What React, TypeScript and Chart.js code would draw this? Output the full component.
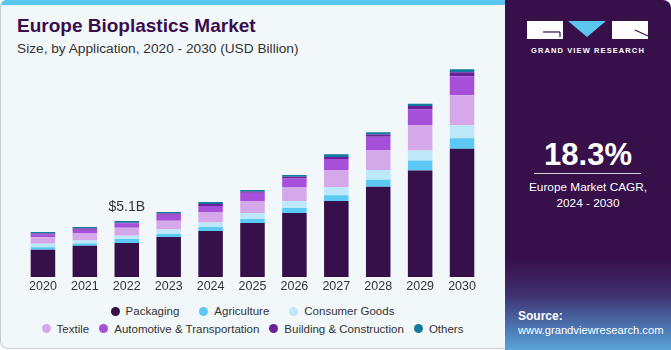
import React, { useEffect, useRef } from 'react';
import { Chart, registerables } from 'chart.js';

Chart.register(...registerables);

const years = ['2020', '2021', '2022', '2023', '2024', '2025', '2026', '2027', '2028', '2029', '2030'];
const packaging = [2.48, 2.85, 3.1, 3.64, 4.19, 4.92, 5.83, 6.92, 8.22, 9.7, 11.67];
const agriculture = [0.24, 0.21, 0.36, 0.27, 0.36, 0.36, 0.45, 0.52, 0.64, 0.91, 0.97];
const consumerGoods = [0.3, 0.27, 0.3, 0.42, 0.42, 0.55, 0.64, 0.76, 0.88, 0.91, 1.18];
const textile = [0.61, 0.64, 0.73, 0.79, 0.94, 1.09, 1.27, 1.55, 1.82, 2.3, 2.73];
const automotive = [0.25, 0.34, 0.39, 0.55, 0.55, 0.76, 0.79, 1.0, 1.21, 1.46, 1.73];
const building = [0.09, 0.11, 0.06, 0.12, 0.18, 0.09, 0.15, 0.18, 0.21, 0.3, 0.36];
const others = [0.12, 0.14, 0.15, 0.12, 0.18, 0.15, 0.15, 0.24, 0.21, 0.21, 0.27];

const seriesNames = ['Packaging', 'Agriculture', 'Consumer Goods', 'Textile', 'Automotive & Transportation', 'Building & Construction', 'Others'];
const seriesColors = ['#36104A', '#5CC9F5', '#BDE8F9', '#D5A8EA', '#A64FD9', '#6B1F9B', '#127A9E'];
const seriesData = [packaging, agriculture, consumerGoods, textile, automotive, building, others];

const annotationIndex = 2;
const annotationText = '$5.1B';

const legendRow1 = [0, 1, 2];
const legendRow2 = [3, 4, 5, 6];

const FONT = '"Liberation Sans", Arial, sans-serif';

const totalLabelPlugin = {
  id: 'totalLabel',
  afterDatasetsDraw(chart: any) {
    const ctx = chart.ctx;
    const meta = chart.getDatasetMeta(chart.data.datasets.length - 1);
    const el = meta.data[annotationIndex];
    if (!el) return;
    ctx.save();
    ctx.font = `14px ${FONT}`;
    ctx.fillStyle = '#333333';
    ctx.textAlign = 'center';
    ctx.textBaseline = 'alphabetic';
    ctx.fillText(annotationText, el.x, el.y - 10);
    ctx.restore();
  },
};

function LegendItem({ idx }: { idx: number }) {
  return (
    <div style={{ display: 'flex', alignItems: 'center' }}>
      <span
        style={{
          width: 9,
          height: 9,
          borderRadius: '50%',
          background: seriesColors[idx],
          display: 'inline-block',
          marginRight: 6,
        }}
      />
      <span>{seriesNames[idx]}</span>
    </div>
  );
}

export default function App() {
  const canvasRef = useRef<HTMLCanvasElement | null>(null);

  useEffect(() => {
    document.body.style.margin = '0';
    const canvas = canvasRef.current;
    if (!canvas) return;
    const chart = new Chart(canvas, {
      type: 'bar',
      data: {
        labels: years,
        datasets: seriesData.map((d, i) => ({
          label: seriesNames[i],
          data: d,
          backgroundColor: seriesColors[i],
          borderWidth: 0,
          categoryPercentage: 1,
          barPercentage: 0.585,
        })),
      },
      options: {
        responsive: false,
        animation: false,
        devicePixelRatio: 1,
        layout: { padding: { left: 22, right: 17, top: 7.4, bottom: 4 } },
        plugins: {
          legend: { display: false },
          tooltip: { enabled: false },
        },
        scales: {
          x: {
            stacked: true,
            grid: { display: false, drawTicks: false },
            border: { display: false },
            ticks: {
              color: '#333333',
              font: { family: FONT, size: 12.5 },
              padding: 2,
            },
          },
          y: {
            stacked: true,
            display: false,
            min: 0,
            max: 20,
          },
        },
      },
      plugins: [totalLabelPlugin],
    });
    return () => chart.destroy();
  }, []);

  return (
    <div
      style={{
        position: 'fixed',
        left: 0,
        top: 0,
        width: 671,
        height: 350,
        background: '#ffffff',
        overflow: 'hidden',
        fontFamily: FONT,
      }}
    >
      {/* left card */}
      <div
        style={{
          position: 'absolute',
          left: 0,
          top: 0,
          width: 520,
          height: 349,
          background: '#F2F7FA',
          borderLeft: '1.5px solid #c9cccf',
          borderBottom: '1.5px solid #c9cccf',
          borderBottomLeftRadius: 8,
          borderTopLeftRadius: 6,
          boxSizing: 'border-box',
          overflow: 'hidden',
        }}
      >
        <div style={{ position: 'absolute', left: 0, top: 0, width: '100%', height: 5, background: '#5BC6EF' }} />
      </div>

      {/* title */}
      <div
        style={{
          position: 'absolute',
          left: 17,
          top: 15,
          fontSize: 19,
          fontWeight: 900,
          color: '#3A0E4C',
          whiteSpace: 'nowrap',
          fontFamily: FONT,
        }}
      >
        Europe Bioplastics Market
      </div>
      <div
        style={{
          position: 'absolute',
          left: 17,
          top: 41,
          fontSize: 13.7,
          color: '#333333',
          whiteSpace: 'nowrap',
        }}
      >
        Size, by Application, 2020 - 2030 (USD Billion)
      </div>

      <canvas
        ref={canvasRef}
        width={500}
        height={250}
        style={{ position: 'absolute', left: 0, top: 50, width: 500, height: 250 }}
      />

      {/* legend */}
      <div
        style={{
          position: 'absolute',
          left: 0,
          top: 303,
          width: 505,
          fontSize: 11.5,
          color: '#333333',
        }}
      >
        <div style={{ display: 'flex', justifyContent: 'center', gap: 20, height: 16, alignItems: 'center' }}>
          {legendRow1.map((i) => (
            <LegendItem key={i} idx={i} />
          ))}
        </div>
        <div style={{ display: 'flex', justifyContent: 'center', gap: 10, height: 17, alignItems: 'center', marginTop: 1 }}>
          {legendRow2.map((i) => (
            <LegendItem key={i} idx={i} />
          ))}
        </div>
      </div>

      {/* right panel */}
      <div
        style={{
          position: 'absolute',
          left: 505,
          top: 0,
          width: 166,
          height: 350,
          borderTopRightRadius: 8,
          background:
            'linear-gradient(to bottom, #37104A 0%, #37104A 74%, #3F2F6E 84%, #4C79B5 94%, #5AA3D8 100%)',
          color: '#ffffff',
        }}
      >
        <svg width={166} height={45} style={{ position: 'absolute', left: 0, top: 0 }}>
          <rect x={22} y={21} width={36} height={18} fill="#ffffff" />
          <line x1={38} y1={32} x2={55} y2={32} stroke="#37104A" strokeWidth={1.2} />
          <line x1={55} y1={32} x2={55} y2={37} stroke="#37104A" strokeWidth={1.2} />
          <polygon points="63,21 101,21 82,37" fill="#5BC6EF" />
          <rect x={107} y={21} width={36} height={18} fill="#ffffff" />
          <line x1={130} y1={30} x2={143} y2={36} stroke="#37104A" strokeWidth={1.2} />
        </svg>
        <div
          style={{
            position: 'absolute',
            left: 0,
            top: 46,
            width: 166,
            textAlign: 'center',
            fontSize: 7.5,
            fontWeight: 700,
            letterSpacing: 1.1,
            whiteSpace: 'nowrap',
          }}
        >
          GRAND VIEW RESEARCH
        </div>
        <div
          style={{
            position: 'absolute',
            left: 0,
            top: 137,
            width: 166,
            textAlign: 'center',
            fontSize: 31,
            fontWeight: 700,
          }}
        >
          18.3%
        </div>
        <div style={{ position: 'absolute', left: 29, top: 173, width: 107, height: 1, background: '#d8d0dc' }} />
        <div
          style={{
            position: 'absolute',
            left: 0,
            top: 179,
            width: 166,
            textAlign: 'center',
            fontSize: 11.8,
            lineHeight: '16px',
          }}
        >
          Europe Market CAGR,
          <br />
          2024 - 2030
        </div>
        <div style={{ position: 'absolute', left: 13, top: 309, fontSize: 12, fontWeight: 700 }}>Source:</div>
        <div style={{ position: 'absolute', left: 13, top: 324, fontSize: 11.2, whiteSpace: 'nowrap' }}>
          www.grandviewresearch.com
        </div>
      </div>
    </div>
  );
}
